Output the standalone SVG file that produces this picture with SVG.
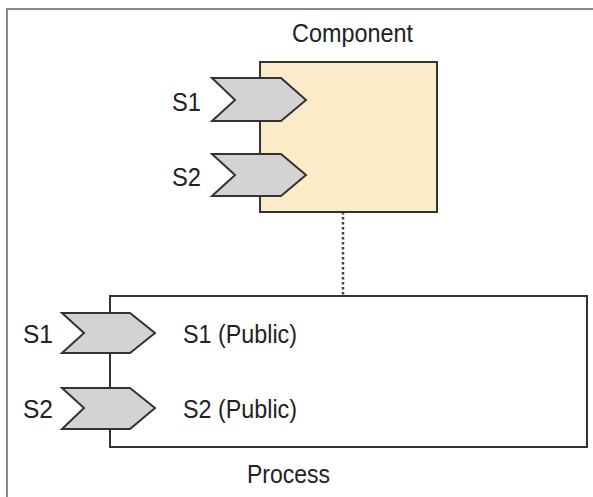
<svg xmlns="http://www.w3.org/2000/svg" width="593" height="497" viewBox="0 0 593 497">
<style>
.t{font-family:"Liberation Sans",Arial,sans-serif;font-size:26px;fill:#222;}
.chev{fill:#d3d3d3;stroke:#333;stroke-width:2;stroke-linejoin:miter;}
.box{stroke:#333;stroke-width:2;}
</style>
<rect width="593" height="497" fill="#fff"/>
<g id="frame"><path d="M7,497 V9 H593" fill="none" stroke="#888" stroke-width="2"/></g>
<g id="connectors">
<line x1="343" y1="212" x2="343" y2="296" stroke="#444" stroke-width="2.5" stroke-dasharray="2.5,2.5"/>
</g>
<g id="component">
<rect class="box" x="260" y="62" width="177" height="150" fill="#fcebc8"/>
<text class="t" x="292" y="42" textLength="121" lengthAdjust="spacingAndGlyphs">Component</text>
</g>
<g id="component-s1">
<polygon class="chev" points="212,78 281,78 306,100 281,121 212,121 235,100"/>
<text class="t" x="172" y="111" textLength="29" lengthAdjust="spacingAndGlyphs">S1</text>
</g>
<g id="component-s2">
<polygon class="chev" points="212,154 281,154 306,175 281,196 212,196 235,175"/>
<text class="t" x="172" y="186" textLength="29" lengthAdjust="spacingAndGlyphs">S2</text>
</g>
<g id="process">
<rect class="box" x="110" y="296" width="477" height="151" fill="#fff"/>
<text class="t" x="247" y="483" textLength="83" lengthAdjust="spacingAndGlyphs">Process</text>
<text class="t" x="183" y="343" textLength="114" lengthAdjust="spacingAndGlyphs">S1 (Public)</text>
<text class="t" x="183" y="418" textLength="114" lengthAdjust="spacingAndGlyphs">S2 (Public)</text>
</g>
<g id="process-s1">
<polygon class="chev" points="62,313 130,313 155,333 130,353 62,353 84,333"/>
<text class="t" x="23" y="343" textLength="30" lengthAdjust="spacingAndGlyphs">S1</text>
</g>
<g id="process-s2">
<polygon class="chev" points="62,388 130,388 155,408 130,429 62,429 84,408"/>
<text class="t" x="23" y="418" textLength="30" lengthAdjust="spacingAndGlyphs">S2</text>
</g>
</svg>
